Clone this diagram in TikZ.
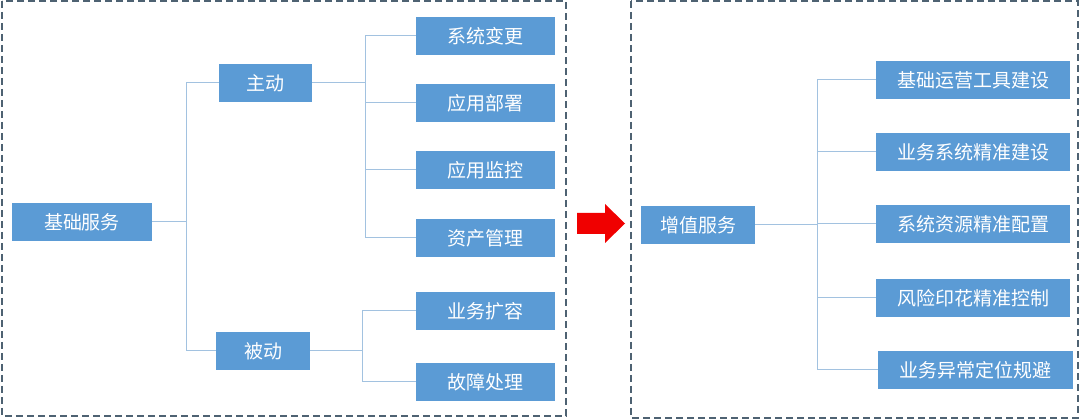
\documentclass[tikz,border=0pt]{standalone}
\usepackage{fontspec}
\setmainfont{Noto Sans CJK SC}
\definecolor{boxblue}{HTML}{5B9BD5}
\definecolor{linkblue}{HTML}{A2C2E0}
\definecolor{framegray}{HTML}{4E6272}
\definecolor{arrowred}{HTML}{F00000}
\tikzset{
  box/.style={fill=boxblue,text=white,minimum height=38,inner sep=0pt,
    font=\fontsize{19}{22}\selectfont},
  elbow/.style={to path={|- (\tikztotarget)}},
  frame/.style={draw=framegray,line width=1.5,dash pattern=on 7 off 4},
}
\begin{document}
\begin{tikzpicture}[x=1pt,y=-1pt]
      \useasboundingbox (0,0) rectangle (1080,419);
      \draw[frame] (2,1) rectangle (566,416);
      \draw[frame] (631,1) rectangle (1078,418);
      \begin{scope}[every node/.style={box}]
        \node[minimum width=140] (base) at (82,222) {基础服务};
        \node[minimum width=93] (act) at (265.5,83) {主动};
        \node[minimum width=94] (pas) at (263,351) {被动};
        \node[minimum width=139] (c_1) at (485.5,36) {系统变更};
        \node[minimum width=139] (c_2) at (485.5,103) {应用部署};
        \node[minimum width=139] (c_3) at (485.5,170) {应用监控};
        \node[minimum width=139] (c_4) at (485.5,238) {资产管理};
        \node[minimum width=139] (c_5) at (485.5,311) {业务扩容};
        \node[minimum width=139] (c_6) at (485.5,382) {故障处理};
      \end{scope}
      \begin{scope}[every node/.style={box}]
        \node[minimum width=114] (vadd) at (698,225) {增值服务};
        \node[minimum width=194] (v_1) at (973,80) {基础运营工具建设};
        \node[minimum width=194] (v_2) at (973,152) {业务系统精准建设};
        \node[minimum width=194] (v_3) at (973,224) {系统资源精准配置};
        \node[minimum width=194] (v_4) at (973,298) {风险印花精准控制};
        \node[minimum width=195] (v_5) at (975.5,370) {业务异常定位规避};
      \end{scope}
      \coordinate (j_0) at (186,222);
      \coordinate (j_1) at (365,83);
      \coordinate (j_2) at (362,351);
      \coordinate (j_3) at (817,225);
      \begin{scope}[every edge/.style={draw=linkblue,line width=1}]
        \path (base.east) edge (j_0);
        \path (j_0) edge[elbow] (act.west) (j_0) edge[elbow] (pas.west);

        \path (act.east) edge (j_1);
        \path (j_1) edge[elbow] (c_1.west) (j_1) edge[elbow] (c_2.west)
              (j_1) edge[elbow] (c_3.west) (j_1) edge[elbow] (c_4.west);

        \path (pas.east) edge (j_2);
        \path (j_2) edge[elbow] (c_5.west) (j_2) edge[elbow] (c_6.west);

        \path (vadd.east) edge (j_3);
        \path (j_3) edge[elbow] (v_1.west) (j_3) edge[elbow] (v_2.west)
              (j_3) edge[elbow] (v_3.west) (j_3) edge[elbow] (v_4.west)
              (j_3) edge[elbow] (v_5.west);
      \end{scope}
      % arrow between the two frames
      \fill[arrowred] (577,213) -- (605,213) -- (605,204) -- (625,223.5)
        -- (605,243) -- (605,234) -- (577,234) -- cycle;
    \end{tikzpicture}
\end{document}
